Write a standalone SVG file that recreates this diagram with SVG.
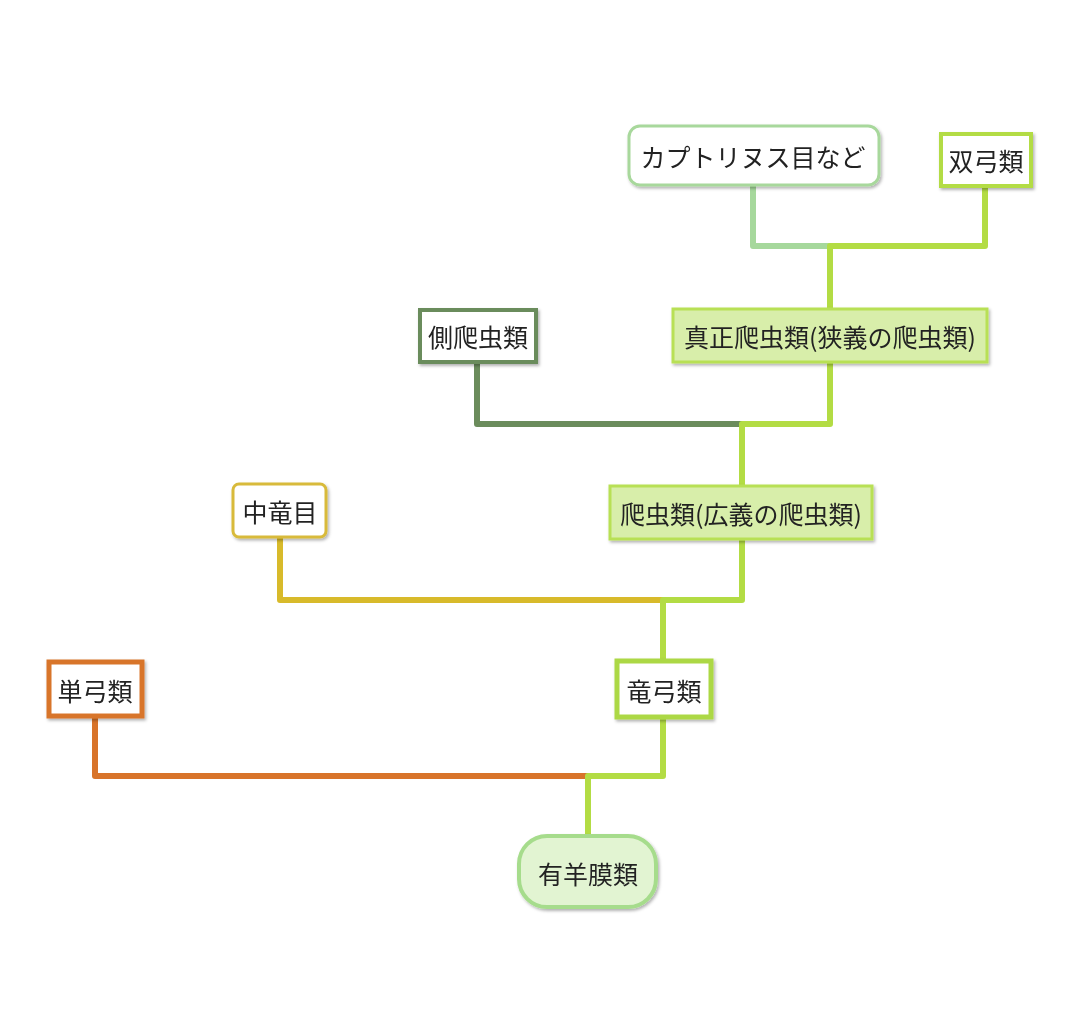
<svg xmlns="http://www.w3.org/2000/svg" width="1079" height="1015" viewBox="0 0 1079 1015">
<defs>
<filter id="sh" x="-20%" y="-20%" width="140%" height="150%">
<feDropShadow dx="1.5" dy="2" stdDeviation="1.5" flood-color="#000" flood-opacity="0.3"/>
</filter>
<style>
text{font-family:"Noto Sans CJK JP","Noto Sans",sans-serif;font-size:25px;fill:#222;text-anchor:middle;dominant-baseline:central}
.c{fill:none;stroke-width:6;stroke-linejoin:round;stroke-linecap:round}
.n{filter:url(#sh)}
</style>
</defs>
<rect width="1079" height="1015" fill="#fff"/>
<g id="connectors">
<path class="c" stroke="#a6d89c" d="M753,186 V246 H830"/>
<path class="c" stroke="#b3dc44" d="M985,187 V246 H830 V308"/>
<path class="c" stroke="#6b8c5c" d="M477,363 V424 H742"/>
<path class="c" stroke="#b3dc44" d="M830,363 V424 H742 V485"/>
<path class="c" stroke="#d8ba2a" d="M280,538 V600 H663"/>
<path class="c" stroke="#b3dc44" d="M742,540 V600 H663 V659"/>
<path class="c" stroke="#d8742a" d="M95,718 V776 H588"/>
<path class="c" stroke="#b3dc44" d="M663,719 V776 H588 V835"/>
</g>
<g id="captorhinida" class="n">
<rect x="629" y="126" width="250" height="59" rx="11" fill="#fff" stroke="#a8d89c" stroke-width="3"/>
<text x="753" y="156">カプトリヌス目など</text>
</g>
<g id="diapsida" class="n">
<rect x="941" y="134" width="90" height="52" fill="#fff" stroke="#b3dc44" stroke-width="4"/>
<text x="986" y="160">双弓類</text>
</g>
<g id="eureptilia" class="n">
<rect x="673" y="309" width="314" height="53" fill="#d8eeaa" stroke="#b8e054" stroke-width="3"/>
<text x="830" y="336">真正爬虫類(狭義の爬虫類)</text>
</g>
<g id="parareptilia" class="n">
<rect x="420" y="310" width="116" height="52" fill="#fff" stroke="#6b8c5c" stroke-width="4"/>
<text x="478" y="336">側爬虫類</text>
</g>
<g id="reptilia" class="n">
<rect x="610" y="486" width="262" height="53" fill="#d8eeaa" stroke="#b8e054" stroke-width="3"/>
<text x="741" y="513">爬虫類(広義の爬虫類)</text>
</g>
<g id="mesosauria" class="n">
<rect x="233" y="484" width="93" height="53" rx="6" fill="#fff" stroke="#d8ba3a" stroke-width="3"/>
<text x="280" y="511">中竜目</text>
</g>
<g id="synapsida" class="n">
<rect x="49" y="662" width="93" height="54" fill="#fff" stroke="#d8742a" stroke-width="5"/>
<text x="95" y="690">単弓類</text>
</g>
<g id="sauropsida" class="n">
<rect x="617" y="661" width="94" height="56" fill="#fff" stroke="#acd844" stroke-width="5"/>
<text x="664" y="690">竜弓類</text>
</g>
<g id="amniota" class="n">
<rect x="519" y="836" width="137" height="71" rx="28" fill="#e2f4d2" stroke="#a6dc8c" stroke-width="4"/>
<text x="588" y="873">有羊膜類</text>
</g>
</svg>
